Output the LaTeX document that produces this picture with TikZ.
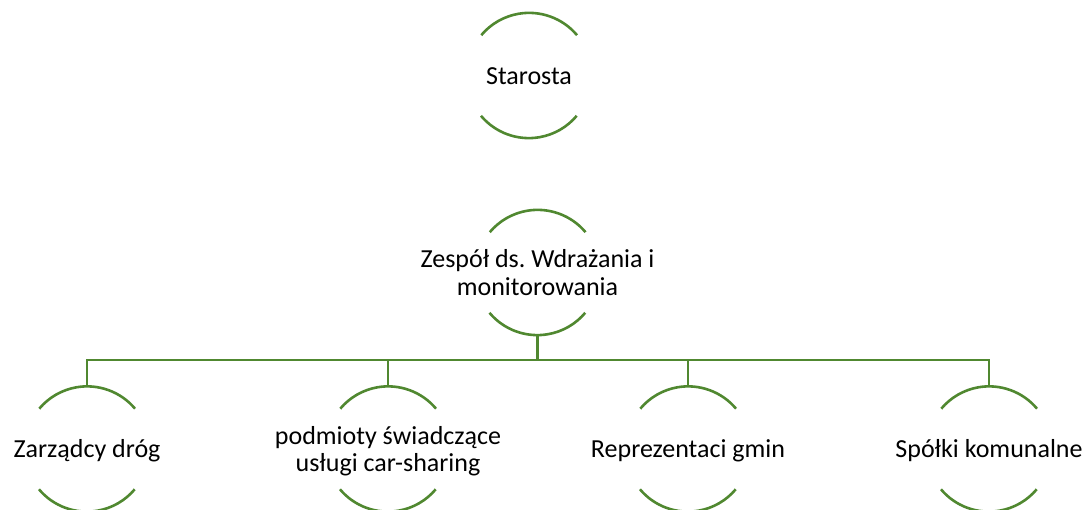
\documentclass[tikz,border=0pt]{standalone}
\usepackage{fontspec}
\setmainfont{Carlito}
\frenchspacing
\definecolor{ringgreen}{RGB}{80,136,48}
\newcommand\ringtext[1]{\makebox[0pt]{\raisebox{-9.5pt}[0pt][0pt]{\begin{tabular}{@{}c@{}}#1\end{tabular}}}}
\tikzset{
  ring/.style={circle, minimum size=125pt, inner sep=0pt, draw=none,
    font=\fontsize{26}{27.5}\selectfont, text=black},
  arcline/.style={draw=ringgreen, line width=2.6pt},
  conn/.style={draw=ringgreen, line width=2.8pt},
}
\newcommand\ringarcs[1]{%
  \draw[arcline] (#1.40) arc[start angle=40, end angle=140, radius=62.5pt];
  \draw[arcline] (#1.220) arc[start angle=220, end angle=320, radius=62.5pt];}
\begin{document}
\begin{tikzpicture}[x=1pt,y=1pt]
\useasboundingbox (0,0) rectangle (1088,510);
\node[ring] (star) at (529,434.5) {\ringtext{Starosta}};
\node[ring] (zes) at (537.5,237.5) {\ringtext{Zespół ds. Wdrażania i\\monitorowania}};
\node[ring] (c1) at (87,61) {\ringtext{Zarządcy dróg}};
\node[ring] (c2) at (388,61) {\ringtext{podmioty świadczące\\usługi car-sharing}};
\node[ring] (c3) at (688,61) {\ringtext{Reprezentaci gmin}};
\node[ring] (c4) at (989,61) {\ringtext{Spółki komunalne}};
\ringarcs{star}
\ringarcs{zes}
\ringarcs{c1}
\ringarcs{c2}
\ringarcs{c3}
\ringarcs{c4}
\coordinate (bus) at (537.5,150);
\draw[conn] (zes.south) -- (zes.south |- bus);
\draw[conn] (c1.north) -- (c1.north |- bus) -- (c4.north |- bus) -- (c4.north);
\draw[conn] (c2.north) -- (c2.north |- bus);
\draw[conn] (c3.north) -- (c3.north |- bus);
\end{tikzpicture}
\end{document}
